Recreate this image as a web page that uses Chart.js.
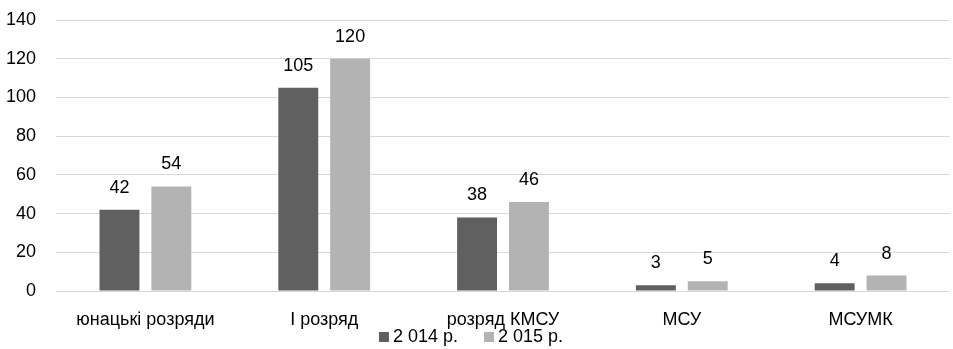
<!DOCTYPE html>
<html>
<head>
    <title>Розряди</title>
    <script src="https://cdn.jsdelivr.net/npm/chart.js@4.4.1/dist/chart.umd.min.js"></script>
    <style>
        html, body { margin: 0; padding: 0; background: #fff; }
        #wrap { width: 953px; height: 349px; }
    </style>
</head>
<body>
    <div id="wrap"><canvas id="myChart"></canvas></div>
    <script>
        const categories = ['юнацькі розряди', 'І розряд', 'розряд КМСУ', 'МСУ', 'МСУМК'];
        const values2014 = [42, 105, 38, 3, 4];
        const values2015 = [54, 120, 46, 5, 8];
        const seriesNames = ['2 014 р.', '2 015 р.'];
        const seriesColors = ['#606060', '#b3b3b3'];

        const FONT = "'Liberation Sans', Arial, sans-serif";

        // value above each bar
        const valueLabels = {
            id: 'valueLabels',
            afterDatasetsDraw(chart) {
                const ctx = chart.ctx;
                ctx.save();
                ctx.font = '18px ' + FONT;
                ctx.fillStyle = '#000';
                ctx.textAlign = 'center';
                ctx.textBaseline = 'alphabetic';
                chart.data.datasets.forEach((ds, i) => {
                    chart.getDatasetMeta(i).data.forEach((bar, j) => {
                        ctx.fillText(ds.data[j], bar.x, bar.y - 17);
                    });
                });
                ctx.restore();
            }
        };

        // small legend under the axis labels
        const bottomLegend = {
            id: 'bottomLegend',
            afterDraw(chart) {
                const ctx = chart.ctx;
                ctx.save();
                ctx.font = '18px ' + FONT;
                ctx.textBaseline = 'middle';
                const box = 10, gap = 4, between = 26;
                const items = chart.data.datasets.map(ds => ({ text: ds.label, color: ds.backgroundColor, w: ctx.measureText(ds.label).width }));
                let total = 0;
                items.forEach((it, i) => { total += box + gap + it.w + (i ? between : 0); });
                let x = 471 - total / 2;
                const y = 337;
                items.forEach(it => {
                    ctx.fillStyle = it.color;
                    ctx.fillRect(x, y - 5, box, box);
                    x += box + gap;
                    ctx.fillStyle = '#000';
                    ctx.fillText(it.text, x, y);
                    x += it.w + between;
                });
                ctx.restore();
            }
        };

        new Chart(document.getElementById('myChart'), {
            type: 'bar',
            data: {
                labels: categories,
                datasets: [{
                    label: seriesNames[0],
                    data: values2014,
                    backgroundColor: seriesColors[0],
                    categoryPercentage: 0.58,
                    barPercentage: 0.77
                }, {
                    label: seriesNames[1],
                    data: values2015,
                    backgroundColor: seriesColors[1],
                    categoryPercentage: 0.58,
                    barPercentage: 0.77
                }]
            },
            options: {
                responsive: true,
                maintainAspectRatio: false,
                animation: false,
                layout: { padding: { top: 20, right: 3, left: 0, bottom: 0 } },
                plugins: {
                    tooltip: { enabled: false },
                    legend: { display: false }
                },
                scales: {
                    x: {
                        grid: { display: false },
                        border: { display: false },
                        ticks: { font: { size: 18, family: FONT }, color: '#000', padding: 10 },
                        afterFit(scale) {
                            scale.height = 58;
                            scale.paddingLeft = 0;
                            scale.paddingRight = 0;
                        }
                    },
                    y: {
                        min: 0,
                        max: 140,
                        ticks: { stepSize: 20, font: { size: 18, family: FONT }, color: '#000', padding: 20 },
                        grid: { color: '#d9d9d9', lineWidth: 1, drawTicks: false },
                        border: { display: false },
                        afterFit(scale) {
                            scale.width = 56;
                            scale.paddingTop = 0;
                            scale.paddingBottom = 0;
                        }
                    }
                }
            },
            plugins: [valueLabels, bottomLegend]
        });
    </script>
</body>
</html>
